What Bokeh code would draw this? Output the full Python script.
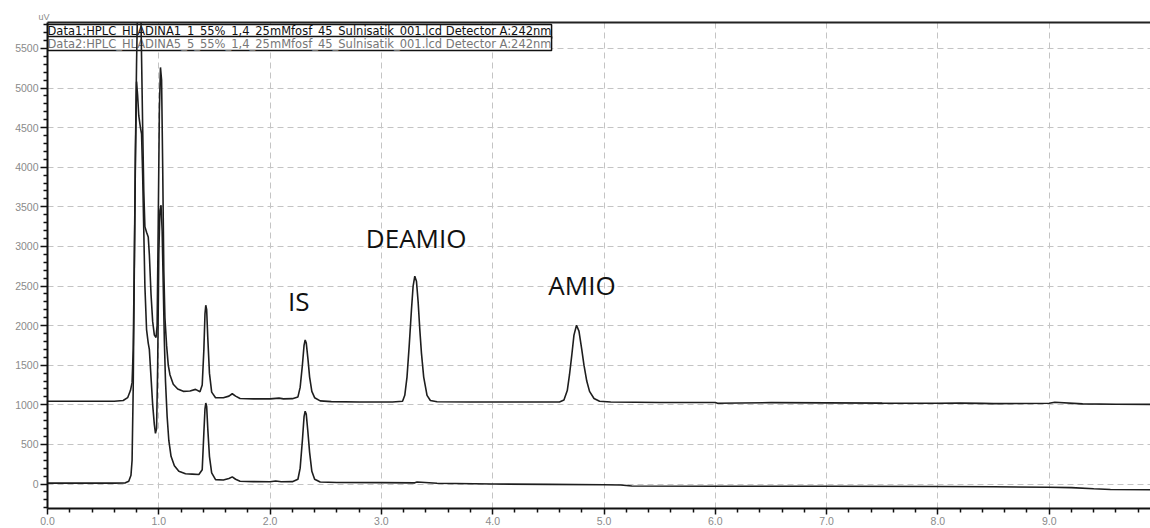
from bokeh.plotting import figure
from bokeh.models import (ColumnDataSource, FixedTicker, PrintfTickFormatter, Label,
                          LinearAxis, Range1d)
from bokeh.embed import file_html
from bokeh.resources import INLINE

# ---------------- data ----------------
t1 = [0.00, 0.30, 0.60, 0.68, 0.72, 0.745, 0.76, 0.77, 0.78, 0.79, 0.80, 0.81, 0.82, 0.835,
      0.845, 0.855, 0.865, 0.875, 0.89, 0.905, 0.915, 0.93, 0.945, 0.96, 0.975, 0.985, 0.995,
      1.005, 1.015, 1.025, 1.035, 1.045, 1.055, 1.07, 1.085, 1.10, 1.13, 1.17, 1.22, 1.28,
      1.33, 1.37, 1.39, 1.405, 1.415, 1.422, 1.43, 1.44, 1.455, 1.475, 1.51, 1.58, 1.63, 1.66,
      1.69, 1.73, 1.85, 2.00, 2.08, 2.12, 2.20, 2.25, 2.27, 2.29, 2.305, 2.315, 2.325, 2.34,
      2.355, 2.375, 2.40, 2.45, 2.55, 2.80, 3.00, 3.10, 3.19, 3.21, 3.23, 3.25, 3.27, 3.285,
      3.30, 3.315, 3.33, 3.345, 3.36, 3.38, 3.41, 3.44, 3.50, 3.80, 4.00, 4.30, 4.60, 4.64,
      4.67, 4.69, 4.71, 4.73, 4.753, 4.775, 4.80, 4.82, 4.845, 4.87, 4.91, 4.96, 5.06, 5.50,
      6.00, 6.02, 6.50, 7.00, 7.50, 8.00, 8.20, 8.40, 8.50, 9.00, 9.05, 9.30, 9.60, 9.91]
v1 = [1045, 1045, 1046, 1055, 1090, 1180, 1280, 1700, 2800, 4200, 5300, 6100, 6400, 6300,
      5400, 4500, 3700, 3250, 3180, 3120, 2900, 2400, 2050, 1880, 1850, 2000, 3300,
      4700, 5260, 5100, 4000, 2700, 2100, 1750, 1500, 1380, 1260, 1200, 1170, 1175,
      1195, 1165, 1250, 1700, 2150, 2257, 2200, 1850, 1400, 1160, 1090, 1090, 1110, 1140,
      1110, 1080, 1075, 1075, 1085, 1075, 1078, 1100, 1220, 1500, 1750, 1818, 1780, 1580,
      1350, 1170, 1090, 1050, 1040, 1035, 1035, 1036, 1045, 1120, 1350, 1750, 2200, 2500,
      2624, 2560, 2300, 1950, 1650, 1350, 1120, 1055, 1038, 1035, 1036, 1035, 1036, 1060,
      1180, 1380, 1620, 1880, 2004, 1930, 1700, 1500, 1300, 1170, 1080, 1045, 1035, 1030,
      1030, 1020, 1028, 1025, 1022, 1020, 1022, 1018, 1015, 1020, 1032, 1012, 1008, 1005]

t2 = [0.00, 0.30, 0.60, 0.70, 0.73, 0.75, 0.76, 0.77, 0.78, 0.79, 0.80, 0.81, 0.82, 0.835,
      0.845, 0.855, 0.865, 0.875, 0.89, 0.905, 0.915, 0.93, 0.945, 0.96, 0.97, 0.98, 0.99,
      1.00, 1.01, 1.02, 1.03, 1.04, 1.05, 1.06, 1.075, 1.09, 1.11, 1.14, 1.18, 1.24, 1.30,
      1.36, 1.39, 1.405, 1.415, 1.422, 1.43, 1.44, 1.455, 1.475, 1.51, 1.58, 1.63, 1.66, 1.69,
      1.73, 1.85, 2.00, 2.05, 2.10, 2.20, 2.25, 2.27, 2.29, 2.305, 2.315, 2.325, 2.34, 2.355,
      2.375, 2.40, 2.45, 2.60, 3.00, 3.30, 3.32, 3.50, 4.00, 4.50, 5.00, 5.15, 5.25, 6.00,
      7.00, 8.00, 8.50, 9.00, 9.20, 9.40, 9.55, 9.91]
v2 = [12, 12, 12, 15, 35, 110, 300, 1200, 2700, 4100, 5080, 4900, 4650, 4500,
      4420, 3900, 3200, 2500, 1950, 1780, 1700, 1350, 1000, 750, 640, 700, 1500,
      2900, 3450, 3520, 3200, 2500, 1800, 1300, 850, 550, 350, 230, 160, 130, 125,
      120, 180, 650, 950, 1023, 980, 700, 350, 140, 55, 50, 70, 90, 60,
      35, 30, 29, 38, 28, 30, 60, 200, 550, 850, 920, 880, 650, 400,
      160, 60, 25, 20, 18, 15, 25, 10, 0, -5, -10, -12, -25, -28,
      -28, -32, -35, -40, -45, -60, -70, -72]

y_ticks = [0, 500, 1000, 1500, 2000, 2500, 3000, 3500, 4000, 4500, 5000, 5500]
x_ticks = [0, 1, 2, 3, 4, 5, 6, 7, 8, 9]

legend_rows = ["Data1:HPLC_HLADINA1_1_55%_1,4_25mMfosf_45_Sulnisatik_001.lcd Detector A:242nm",
               "Data2:HPLC_HLADINA5_5_55%_1,4_25mMfosf_45_Sulnisatik_001.lcd Detector A:242nm"]

peak_names = ["IS", "DEAMIO", "AMIO"]
peak_label_t = [2.16, 2.86, 4.50]
peak_label_v = [2316, 3101, 2519]

# ---------------- figure ----------------
W, H = 1150, 528
Y_TOP, Y_BOT = 5827, -309
X_END = 9.91

p = figure(width=W, height=H, output_backend="svg", toolbar_location=None,
           x_range=Range1d(0, X_END), y_range=Range1d(Y_BOT, Y_TOP),
           min_border_left=47, min_border_top=22, min_border_bottom=20, min_border_right=0,
           background_fill_color="white", border_fill_color="white",
           title="uV")
p.outline_line_color = None
p.title.text_font = "Liberation Sans"
p.title.text_font_size = "9px"
p.title.text_font_style = "normal"
p.title.text_color = "#8a8a8a"
p.title.align = "left"
p.title.offset = -9
p.title.standoff = 2

grid_color = "#c4c4c4"
p.xgrid.ticker = FixedTicker(ticks=x_ticks[1:])
p.ygrid.ticker = FixedTicker(ticks=y_ticks)
for g in (p.xgrid, p.ygrid):
    g.grid_line_color = grid_color
    g.grid_line_dash = "6 4"
    g.grid_line_width = 1

minor_y = [v for v in range(-300, 5801, 100) if v % 500 != 0]
minor_x = [round(i * 0.2, 1) for i in range(0, 50) if i % 5 != 0]

p.yaxis.ticker = FixedTicker(ticks=y_ticks, minor_ticks=minor_y)
p.xaxis.ticker = FixedTicker(ticks=x_ticks, minor_ticks=minor_x)
p.xaxis.formatter = PrintfTickFormatter(format="%.1f")
for ax in (p.xaxis, p.yaxis):
    ax.axis_line_color = "#111111"
    ax.axis_line_width = 2
    ax.major_tick_line_color = "#111111"
    ax.minor_tick_line_color = "#111111"
    ax.major_tick_line_width = 1.5
    ax.minor_tick_line_width = 1.5
    ax.major_tick_in = 0
    ax.minor_tick_in = 0
    ax.major_label_text_color = "#8a8a8a"
    ax.major_label_text_font = "Liberation Sans"
    ax.major_label_text_font_size = "10.5px"
p.yaxis.major_tick_out = 7
p.yaxis.minor_tick_out = 4
p.yaxis.major_label_standoff = 2
p.xaxis.major_tick_out = 6
p.xaxis.minor_tick_out = 4
p.xaxis.major_label_standoff = 2

top_axis = LinearAxis(ticker=FixedTicker(ticks=[]), axis_line_color="#222222",
                      axis_line_width=2, major_tick_line_color=None,
                      minor_tick_line_color=None, major_label_text_font_size="0px")
p.add_layout(top_axis, "above")

# legend rows (drawn under the traces, as in the original)
for i, (txt, col) in enumerate(zip(legend_rows, ["#111111", "#777777"])):
    lab = Label(x=0.0, y=5802 - i * 152, text=txt, text_font="DejaVu Sans",
                text_font_size="11.5px", text_color=col, text_baseline="top",
                text_align="left", background_fill_color="white",
                border_line_color="#111111", border_line_width=1.5, padding=0)
    lab.level = "underlay"
    p.add_layout(lab)

src1 = ColumnDataSource(dict(t=t1, v=v1))
src2 = ColumnDataSource(dict(t=t2, v=v2))
p.line("t", "v", source=src2, line_color="#1e1e1e", line_width=1.6)
p.line("t", "v", source=src1, line_color="#1e1e1e", line_width=1.6)

for name, tx, vy in zip(peak_names, peak_label_t, peak_label_v):
    p.add_layout(Label(x=tx, y=vy, text=name, text_font="Open Sans",
                       text_font_size="26px", text_color="#111111",
                       text_baseline="alphabetic", text_align="left"))

p.add_layout(Label(x=X_END, y=Y_BOT, x_offset=-3, y_offset=-14, text="mi",
                   text_font="Liberation Sans", text_font_size="10.5px",
                   text_color="#8a8a8a", text_baseline="alphabetic", text_align="right"))

open("out.html", "w").write(file_html(p, INLINE))
